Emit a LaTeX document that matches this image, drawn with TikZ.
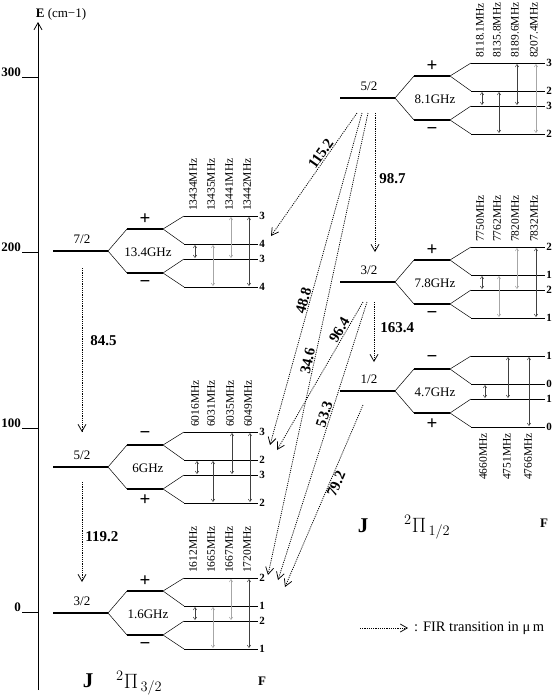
\documentclass[tikz,border=0pt]{standalone}
\usepackage{fontspec}
\setmainfont{Liberation Serif}
\usetikzlibrary{calc,arrows.meta}

\tikzset{
  jlevel/.style={line width=2.4pt},
  lamlevel/.style={line width=2.4pt},
  hfslevel/.style={line width=1pt},
  splitline/.style={line width=0.5pt},
  hfsarrow/.style={line width=0.5pt,
    {Straight Barb[length=2.5pt,width=3.5pt]}-{Straight Barb[length=2.5pt,width=3.5pt]}},
  hfdark/.style={draw=black!75},
  hflight/.style={draw=black!35},
  fir/.style={line width=0.75pt, dash pattern=on 1.1pt off 1.1pt,
    -{Straight Barb[length=7pt,width=8pt]}},
  firlab/.style={font=\fontsize{15}{15}\selectfont\bfseries, inner sep=1pt},
  freqlab/.style={font=\fontsize{11.5}{11.5}\selectfont, rotate=90, inner sep=0pt},
  flab/.style={font=\fontsize{11}{11}\selectfont\bfseries, inner sep=0pt},
  jlab/.style={font=\fontsize{13}{13}\selectfont, inner sep=0pt},
  signlab/.style={font=\fontsize{19}{19}\selectfont\bfseries, inner sep=0pt},
  ticklab/.style={font=\fontsize{13}{13}\selectfont\bfseries, anchor=base east, inner sep=0pt},
  statelab/.style={font=\fontsize{20}{20}\selectfont, inner sep=0pt}
}

% one J level with its lambda doublet and hyperfine levels
\newcommand{\lamblock}[7]{%
  \coordinate (#1) at (#2,#3);
  \draw[jlevel] ($(#1)+(-55,0)$) -- (#1);
  \node[jlab] (#1J) at ($(#1)+(-26,-12)$) {#4};
  \draw[splitline] (#1) -- ++(19,-22) coordinate (#1u) (#1) -- ++(19,22) coordinate (#1l);
  \draw[lamlevel] (#1u) -- ++(36,0) coordinate (#1uu);
  \draw[lamlevel] (#1l) -- ++(36,0) coordinate (#1ll);
  \draw[splitline] (#1uu) -- ++(21,-13) coordinate (#1a) (#1uu) -- ++(21,15) coordinate (#1b);
  \draw[splitline] (#1ll) -- ++(21,-14) coordinate (#1c) (#1ll) -- ++(21,14) coordinate (#1d);
  \foreach \k in {a,b,c,d} {\draw[hfslevel] (#1\k) -- ++(74,0);}
  \node[signlab] (#1up) at ($(#1u)+(18,-10)$) {#6};
  \node[signlab] (#1lo) at ($(#1l)+(18,11)$) {#7};
  \node[jlab] (#1G) at ($(#1)+(40,1)$) {#5};
}
\newcommand{\flabs}[5]{%
  \node[flab] (#1aF) at ($(#1a)+(78,0)$) {#2};
  \node[flab] (#1bF) at ($(#1b)+(78,0)$) {#3};
  \node[flab] (#1cF) at ($(#1c)+(78,0)$) {#4};
  \node[flab] (#1dF) at ($(#1d)+(78,0)$) {#5};
}
\newcommand{\hfarrow}[5]{\draw[hfsarrow, #5] ($(#1#3)+(#2,1)$) -- ($(#1#4)+(#2,-1)$);}

\begin{document}
\begin{tikzpicture}[x=1pt,y=-1pt]
\useasboundingbox (0,0) rectangle (554,697);

% energy axis
\draw[line width=0.8pt, -{Straight Barb[length=7pt,width=8pt]}] (38,690) coordinate (axbot) -- (38,22) coordinate (axtop);
\node[font=\fontsize{13}{13}\selectfont, inner sep=0pt] (elab) at (61,14) {\textbf{E} (cm−1)};
\foreach \v/\y in {300/77,200/252,100/428,0/612}{
  \draw[line width=0.8pt] (22,\y) -- (axbot |- 0,\y);
  \node[ticklab] (tick\v) at (21,\y-1) {\v};
}

% 2Pi 3/2 ladder
\lamblock{L72}{108}{251}{7/2}{13.4GHz}{+}{−}
\lamblock{L52}{108}{467}{5/2}{6GHz}{−}{+}
\lamblock{L32}{108}{613}{3/2}{1.6GHz}{+}{−}
% 2Pi 1/2 ladder
\lamblock{R52}{395}{98}{5/2}{8.1GHz}{+}{−}
\lamblock{R32}{395}{282}{3/2}{7.8GHz}{+}{−}
\lamblock{R12}{395}{391}{1/2}{4.7GHz}{−}{+}

\flabs{L72}{3}{4}{3}{4}
\flabs{L52}{3}{2}{3}{2}
\flabs{L32}{2}{1}{2}{1}
\flabs{R52}{3}{2}{3}{2}
\flabs{R32}{2}{1}{2}{1}
\flabs{R12}{1}{0}{1}{0}

% hyperfine transitions
\foreach \xo/\p/\q/\c in {11/b/c/hfdark,29/b/d/hflight,47/a/c/hflight,65/a/d/hfdark}
  {\hfarrow{L72}{\xo}{\p}{\q}{\c}}
\foreach \xo/\p/\q/\c in {13/b/c/hfdark,29/b/d/hfdark,48/a/c/hfdark,66/a/d/hfdark}
  {\hfarrow{L52}{\xo}{\p}{\q}{\c}}
\foreach \xo/\p/\q/\c in {11/b/c/hfdark,29/b/d/hflight,47/a/c/hflight,65/a/d/hfdark}
  {\hfarrow{L32}{\xo}{\p}{\q}{\c}}
\foreach \xo/\p/\q/\c in {11/b/c/hfdark,28/b/d/hfdark,46/a/c/hfdark,65/a/d/hflight}
  {\hfarrow{R52}{\xo}{\p}{\q}{\c}}
\foreach \xo/\p/\q/\c in {11/b/c/hfdark,28/b/d/hflight,46/a/c/hflight,65/a/d/hfdark}
  {\hfarrow{R32}{\xo}{\p}{\q}{\c}}
\foreach \xo/\p/\q/\c in {14/b/c/hfdark,37/a/c/hfdark,58/a/d/hfdark}
  {\hfarrow{R12}{\xo}{\p}{\q}{\c}}

% frequencies
\foreach \xo/\t in {9/13434MHz,27/13435MHz,45/13441MHz,63/13442MHz}
  {\node[freqlab, anchor=west] at ($(L72a)+(\xo,-5)$) {\t};}
\foreach \xo/\t in {11/6016MHz,27/6031MHz,46/6035MHz,64/6049MHz}
  {\node[freqlab, anchor=west] at ($(L52a)+(\xo,-5)$) {\t};}
\foreach \xo/\t in {9/1612MHz,27/1665MHz,45/1667MHz,63/1720MHz}
  {\node[freqlab, anchor=west] at ($(L32a)+(\xo,-5)$) {\t};}
\foreach \xo/\t in {9/8118.1MHz,26/8135.8MHz,44/8189.6MHz,63/8207.4MHz}
  {\node[freqlab, anchor=west] at ($(R52a)+(\xo,-5)$) {\t};}
\foreach \xo/\t in {9/7750MHz,26/7762MHz,44/7820MHz,63/7832MHz}
  {\node[freqlab, anchor=west] at ($(R32a)+(\xo,-5)$) {\t};}
\foreach \xo/\t in {12/4660MHz,36/4751MHz,57/4766MHz}
  {\node[freqlab, anchor=east] at ($(R12d)+(\xo,6)$) {\t};}

% FIR transitions
\draw[fir] ($(L72)+(-26,17)$) -- ($(L52)+(-26,-35)$) node[firlab, pos=0.44, right=7pt] {84.5};
\draw[fir] ($(L52)+(-26,15)$) -- ($(L32)+(-26,-31)$) node[firlab, pos=0.55, right=2pt] {119.2};
\draw[fir] ($(R52)+(-20,15)$) -- ($(R32)+(-20,-30)$) node[firlab, pos=0.47, right=3pt] {98.7};
\draw[fir] ($(R32)+(-21,20)$) -- ($(R12)+(-21,-29)$) node[firlab, pos=0.43, right=5pt] {163.4};
\draw[fir] ($(R52)+(-38,15)$) -- ($(L72bF)+(9,-8)$) node[firlab, sloped, pos=0.36, above] {115.2};
\draw[fir] ($(R52)+(-33,15)$) -- ($(L52aF)+(8,13)$) node[firlab, sloped, pos=0.57, above] {48.8};
\draw[fir] ($(R52)+(-27,15)$) -- ($(L32aF)+(6,-3)$) node[firlab, sloped, pos=0.54, above] {34.6};
\draw[fir] ($(R32)+(-32,20)$) -- ($(L52aF)+(15,18)$) node[firlab, sloped, pos=0.21, above] {96.4};
\draw[fir] ($(R32)+(-28,20)$) -- ($(L32aF)+(16,2)$) node[firlab, sloped, pos=0.41, above] {53.3};
\draw[fir] ($(R12)+(-32,14)$) -- ($(L32aF)+(23,9)$) node[firlab, sloped, pos=0.42, below] {79.2};

% legend
\coordinate (legstart) at (360,628);
\draw[fir] (legstart) -- ++(48,0) coordinate (legend);
\node[font=\fontsize{14.5}{14.5}\selectfont, anchor=west, inner sep=0pt] (legtext) at ($(legend)+(6,0)$) {: FIR transition in μ\,m};

% state labels
\node[statelab, font=\fontsize{21}{21}\selectfont\bfseries] (jleft) at (88,681) {J};
\node[statelab, anchor=base west] (pileft) at (116,688) {${}^{2}\Pi_{\,3/2}$};
\node[flab, font=\fontsize{13}{13}\selectfont\bfseries] (fleft) at (262,681) {F};
\node[statelab, font=\fontsize{21}{21}\selectfont\bfseries] (jright) at (363,526) {J};
\node[statelab, anchor=base west] (piright) at (404,532) {${}^{2}\Pi_{\,1/2}$};
\node[flab, font=\fontsize{13}{13}\selectfont\bfseries] (fright) at (544,523) {F};
\end{tikzpicture}
\end{document}
